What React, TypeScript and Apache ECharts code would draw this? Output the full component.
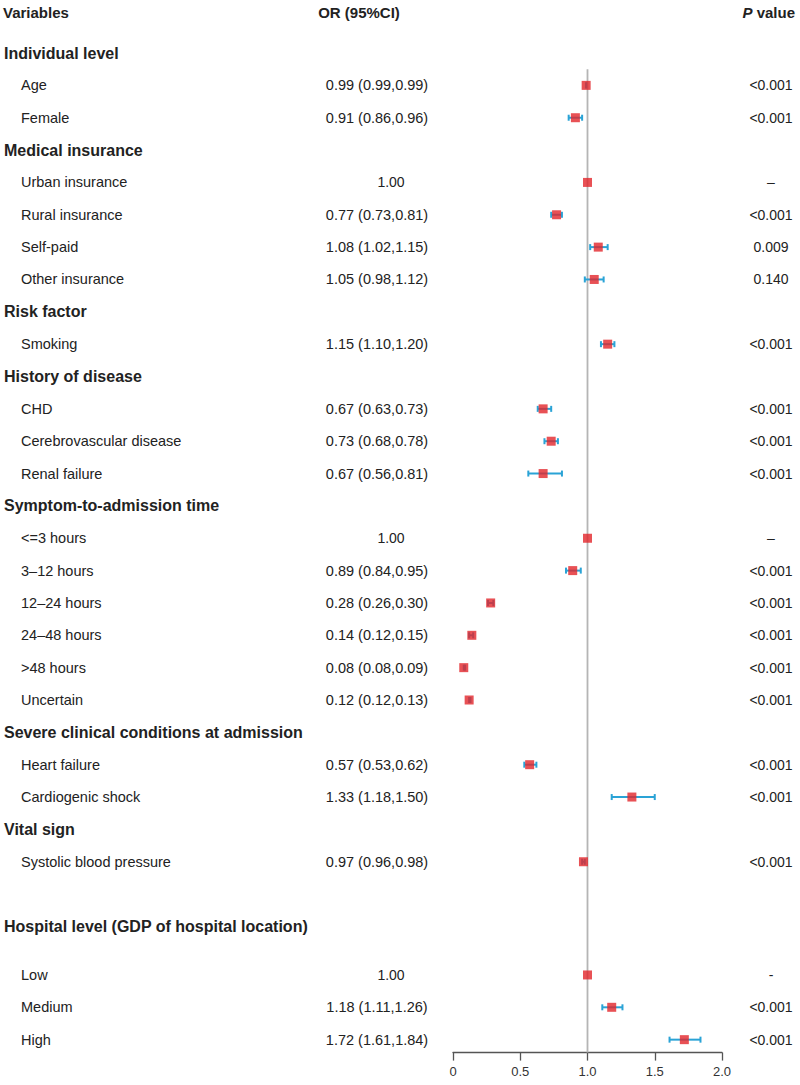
import React, { useEffect, useRef } from "react";
import * as echarts from "echarts";

const sectionNames = [
  "Individual level",
  "Medical insurance",
  "Risk factor",
  "History of disease",
  "Symptom-to-admission time",
  "Severe clinical conditions at admission",
  "Vital sign",
  "Hospital level (GDP of hospital location)",
];
const sectionRows = [0, 3, 8, 10, 14, 21, 24, 27];

const varNames = [
  "Age", "Female",
  "Urban insurance", "Rural insurance", "Self-paid", "Other insurance",
  "Smoking",
  "CHD", "Cerebrovascular disease", "Renal failure",
  "<=3 hours", "3\u201312 hours", "12\u201324 hours", "24\u201348 hours", ">48 hours", "Uncertain",
  "Heart failure", "Cardiogenic shock",
  "Systolic blood pressure",
  "Low", "Medium", "High",
];
const varRows = [1, 2, 4, 5, 6, 7, 9, 11, 12, 13, 15, 16, 17, 18, 19, 20, 22, 23, 25, 28.5, 29.5, 30.5];
const orValues = [0.99, 0.91, 1.0, 0.77, 1.08, 1.05, 1.15, 0.67, 0.73, 0.67, 1.0, 0.89, 0.28, 0.14, 0.08, 0.12, 0.57, 1.33, 0.97, 1.0, 1.18, 1.72];
const ciLow: (number | null)[] = [0.99, 0.86, null, 0.73, 1.02, 0.98, 1.1, 0.63, 0.68, 0.56, null, 0.84, 0.26, 0.12, 0.08, 0.12, 0.53, 1.18, 0.96, null, 1.11, 1.61];
const ciHigh: (number | null)[] = [0.99, 0.96, null, 0.81, 1.15, 1.12, 1.2, 0.73, 0.78, 0.81, null, 0.95, 0.3, 0.15, 0.09, 0.13, 0.62, 1.5, 0.98, null, 1.26, 1.84];
const pValues = [
  "<0.001", "<0.001",
  "\u2013", "<0.001", "0.009", "0.140",
  "<0.001",
  "<0.001", "<0.001", "<0.001",
  "\u2013", "<0.001", "<0.001", "<0.001", "<0.001", "<0.001",
  "<0.001", "<0.001",
  "<0.001",
  "-", "<0.001", "<0.001",
];
const xTicks = [0, 0.5, 1.0, 1.5, 2.0];
const refValue = 1;

const FONT = "'Liberation Sans', Arial, Helvetica, sans-serif";
const NARROW = "'Liberation Sans Narrow', 'Arial Narrow', 'Liberation Sans', sans-serif";

export default function App() {
  const ref = useRef<HTMLDivElement>(null);
  useEffect(() => {
    if (!ref.current) return;
    const chart = echarts.init(ref.current, undefined, { renderer: "svg" });

    const orText = orValues.map((v, i) =>
      ciLow[i] == null ? v.toFixed(2) : `${v.toFixed(2)} (${(ciLow[i] as number).toFixed(2)},${(ciHigh[i] as number).toFixed(2)})`
    );
    const errData = varRows
      .map((r, i) => (ciLow[i] == null ? null : [ciLow[i], ciHigh[i], r]))
      .filter((d) => d != null);

    const option: any = {
      animation: false,
      backgroundColor: "#ffffff",
      grid: { left: 453, width: 269, top: 4.5, bottom: 32.4, containLabel: false },
      xAxis: {
        type: "value",
        min: xTicks[0],
        max: xTicks[xTicks.length - 1],
        interval: 0.5,
        axisLine: { show: true, onZero: false, lineStyle: { color: "#555", width: 1.3 } },
        axisTick: { show: true, length: 8, lineStyle: { color: "#555", width: 1.3 } },
        splitLine: { show: false },
        axisLabel: {
          margin: 12,
          fontSize: 13,
          color: "#333",
          fontFamily: FONT,
          formatter: (v: number) => (v === 0 ? "0" : v.toFixed(1)),
        },
      },
      yAxis: { type: "value", inverse: true, min: -1.5, max: 30.9, show: false },
      graphic: [
        { type: "text", x: 3, y: 12, style: { text: "Variables", font: `bold 15px ${FONT}`, fill: "#222", verticalAlign: "middle" } },
        { type: "text", x: 359, y: 12, style: { text: "OR (95%CI)", font: `bold 15px ${FONT}`, fill: "#222", align: "center", verticalAlign: "middle" } },
        {
          type: "text",
          x: 795,
          y: 12,
          style: {
            text: "{p|P}{v| value}",
            align: "right",
            verticalAlign: "middle",
            rich: {
              p: { font: `italic bold 15px ${FONT}`, fill: "#222" },
              v: { font: `bold 15px ${FONT}`, fill: "#222" },
            },
          },
        },
      ],
      series: [
        {
          type: "line",
          data: [[refValue, 0.5], [refValue, 30.9]],
          symbol: "none",
          lineStyle: { color: "#b5b5b5", width: 1.8 },
          z: 1,
          silent: true,
        },
        {
          type: "custom",
          data: errData,
          encode: { x: [0, 1], y: 2 },
          z: 2,
          renderItem: (params: any, api: any) => {
            const p1 = api.coord([api.value(0), api.value(2)]);
            const p2 = api.coord([api.value(1), api.value(2)]);
            const c = 3;
            const st = { stroke: "#2aa3d6", lineWidth: 2 };
            return {
              type: "group",
              children: [
                { type: "line", shape: { x1: p1[0], y1: p1[1], x2: p2[0], y2: p2[1] }, style: st },
                { type: "line", shape: { x1: p1[0], y1: p1[1] - c, x2: p1[0], y2: p1[1] + c }, style: st },
                { type: "line", shape: { x1: p2[0], y1: p2[1] - c, x2: p2[0], y2: p2[1] + c }, style: st },
              ],
            };
          },
        },
        {
          type: "scatter",
          data: orValues.map((v, i) => [v, varRows[i]]),
          symbol: "rect",
          symbolSize: 9,
          itemStyle: { color: "#e2252b" },
          z: 3,
        },
        {
          type: "custom",
          data: sectionRows.map((r, i) => [0, r, i]),
          encode: { x: 0, y: 1 },
          clip: false,
          renderItem: (params: any, api: any) => {
            const y = api.coord([0, api.value(1)])[1];
            const i = api.value(2);
            return {
              type: "text",
              x: 4,
              y,
              style: { text: sectionNames[i], font: `bold 16px ${FONT}`, fill: "#222", align: "left", verticalAlign: "middle" },
            };
          },
        },
        {
          type: "custom",
          data: varRows.map((r, i) => [0, r, i]),
          encode: { x: 0, y: 1 },
          clip: false,
          renderItem: (params: any, api: any) => {
            const y = api.coord([0, api.value(1)])[1];
            const i = api.value(2);
            const isRef = ciLow[i] == null;
            return {
              type: "group",
              children: [
                {
                  type: "text",
                  x: 21,
                  y,
                  style: { text: varNames[i], font: `14.5px ${FONT}`, fill: "#222", align: "left", verticalAlign: "middle" },
                },
                {
                  type: "text",
                  x: isRef ? 391 : 377,
                  y,
                  style: {
                    text: orText[i],
                    font: isRef ? `14px ${FONT}` : `14.5px ${NARROW}`,
                    fill: "#222",
                    align: "center",
                    verticalAlign: "middle",
                  },
                },
                {
                  type: "text",
                  x: 771,
                  y,
                  style: { text: pValues[i], font: `14px ${FONT}`, fill: "#222", align: "center", verticalAlign: "middle" },
                },
              ],
            };
          },
        },
      ],
    };
    chart.setOption(option);
    return () => chart.dispose();
  }, []);

  return (
    <div style={{ position: "absolute", left: 0, top: 0, width: 800, height: 1085 }}>
      <div ref={ref} style={{ width: 800, height: 1085 }} />
    </div>
  );
}
